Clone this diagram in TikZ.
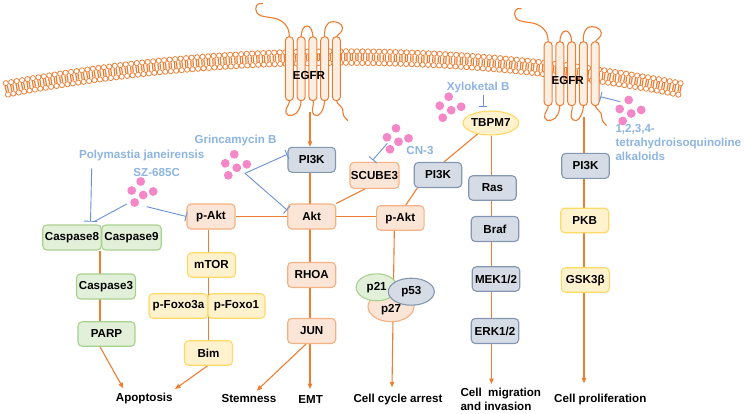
\documentclass[tikz,border=0pt]{standalone}
\usepackage{fontspec}
\setmainfont{Liberation Sans}
\usetikzlibrary{arrows.meta,backgrounds,calc,shapes.geometric}
\definecolor{ora}{RGB}{237,125,49}
\definecolor{gfill}{RGB}{226,240,217}
\definecolor{gdraw}{RGB}{169,209,142}
\definecolor{pfill}{RGB}{251,229,214}
\definecolor{pdraw}{RGB}{244,177,131}
\definecolor{yfill}{RGB}{255,242,204}
\definecolor{ydraw}{RGB}{255,217,102}
\definecolor{bfill}{RGB}{214,220,229}
\definecolor{bdraw}{RGB}{132,151,176}
\definecolor{drug}{RGB}{141,180,226}
\definecolor{inhc}{RGB}{105,145,212}
\definecolor{dotc}{RGB}{243,135,199}
\definecolor{egfill}{RGB}{253,238,226}
\tikzset{
  nbox/.style={draw, rounded corners=4pt, line width=1.1pt, minimum width=48pt, minimum height=25pt, inner sep=1pt},
  greenbox/.style={nbox, fill=gfill, draw=gdraw},
  peachbox/.style={nbox, fill=pfill, draw=pdraw},
  yellowbox/.style={nbox, fill=yfill, draw=ydraw},
  bluebox/.style={nbox, fill=bfill, draw=bdraw, minimum width=47.5pt},
  ell/.style={ellipse, line width=1.1pt, inner sep=0pt, minimum height=27pt},
  oline/.style={draw=ora, line width=1.1pt},
  oarr/.style={oline, -{Triangle[length=5.5pt,width=4.5pt]}},
  inh/.style={draw=inhc, line width=0.9pt, -{Bar[width=10pt,line width=0.9pt]}},
  inhplain/.style={draw=inhc, line width=0.9pt},
  drugtxt/.style={text=drug, inner sep=0pt},
  outtxt/.style={inner sep=0pt},
  membr/.style={draw=ora, line width=1.2pt},
  headc/.style={draw=ora, line width=0.75pt, fill=white},
  pics/dots/.style={code={
     \foreach \dx/\dy in {0/0,-9/9,2.5/13.5,12.5/10,-6/21}
       \fill[dotc] (\dx,\dy) circle (4.4);
  }},
  pics/egfr/.style={code={
     \draw[oline] (-23.5,2) .. controls (-23.5,-8) and (-26,-12) .. (-32,-16) .. controls (-40,-21) and (-52,-18) .. (-56,-24) .. controls (-59,-29) and (-56,-35) .. (-50,-33);
     \draw[oline] (-11.75,2) .. controls (-12.5,-15) and (0.5,-15) .. (0,2);
     \draw[oline] (11.75,2) .. controls (11,-8) and (13,-15) .. (20,-15) .. controls (28,-15) and (31,-10) .. (29,-6) .. controls (27,-2) and (24,-3) .. (23.5,2);
     \draw[oline] (-23.5,62) .. controls (-23,70) and (-28,70) .. (-27,76) .. controls (-26,81) and (-16,79) .. (-14,73) .. controls (-12,68) and (-11.75,66) .. (-11.75,62);
     \draw[oline] (0,62) .. controls (2,70) and (-3,74) .. (1,78) .. controls (5,82) and (12,74) .. (11.75,62);
     \draw[oline] (23.5,62) .. controls (24,70) and (30,68) .. (30,75) .. controls (30,80) and (33,82) .. (35,84);
     \foreach \hx in {-23.5,-11.75,0,11.75,23.5}
       \draw[draw=ora, line width=1pt, fill=egfill, rounded corners=3.8pt] ({\hx-4},0) rectangle ({\hx+4},64);
     \node[inner sep=0pt] (-lbl) at (-4,39) {EGFR};
  }}
}
\begin{document}
\begin{tikzpicture}[x=1pt,y=-1pt,font=\fontsize{11.6}{14}\selectfont\bfseries]
\useasboundingbox (0,0) rectangle (745,413);
% membrane
\foreach \i in {0,...,123}{
  \pgfmathsetmacro{\ang}{-10.8+0.1757*\i}
  \pgfmathsetmacro{\msin}{sin(\ang)}
  \pgfmathsetmacro{\mcos}{cos(\ang)}
  \draw[membr] ({343+1797*\msin-1.1*\mcos},{1851-1797*\mcos-1.1*\msin}) -- ({343+1791*\msin-1.1*\mcos},{1851-1791*\mcos-1.1*\msin});
  \draw[membr] ({343+1797*\msin+1.1*\mcos},{1851-1797*\mcos+1.1*\msin}) -- ({343+1791*\msin+1.1*\mcos},{1851-1791*\mcos+1.1*\msin});
  \draw[headc] ({343+1799.8*\msin},{1851-1799.8*\mcos}) circle (2.6);
  \draw[headc] ({343+1788.2*\msin},{1851-1788.2*\mcos}) circle (2.6);
}
% receptors
\pic (egL) at (312.9,36.7) {egfr};
\pic (egR) at (571.7,41.7) {egfr};
% drug dots
\pic (dSZ) at (140.7,181.5) {dots};
\pic (dGr) at (234.3,154.3) {dots};
\pic (dCN) at (396,128.3) {dots};
\pic (dXy) at (448.7,96.7) {dots};
\pic (dAl) at (628.7,100) {dots};
% nodes
\node[greenbox, minimum width=58.5pt] (casp8) at (72,237.5) {Caspase8};
\node[greenbox, minimum width=59.5pt] (casp9) at (131.5,237.5) {Caspase9};
\node[greenbox, minimum width=59pt] (casp3) at (106,286.5) {Caspase3};
\node[greenbox, minimum width=57pt, minimum height=24.5pt] (parp) at (106.5,334) {PARP};
\node[peachbox] (pakt1) at (211,216.5) {p-Akt};
\node[yellowbox, minimum height=24.5pt] (mtor) at (211.5,265) {mTOR};
\node[yellowbox, minimum width=59pt, minimum height=24.5pt] (foxo3a) at (178.5,306) {p-Foxo3a};
\node[yellowbox, minimum width=57pt, minimum height=24.5pt] (foxo1) at (236.5,306) {p-Foxo1};
\node[yellowbox, minimum height=24.5pt] (bim) at (208.5,353) {Bim};
\node[bluebox] (pi3k1) at (311.7,159.8) {PI3K};
\node[peachbox] (akt) at (311.7,216.5) {Akt};
\node[peachbox] (rhoa) at (311.7,275) {RHOA};
\node[peachbox] (jun) at (311.7,331) {JUN};
\node[peachbox, minimum height=26pt] (scube3) at (374.5,175.3) {SCUBE3};
\node[bluebox] (pi3k2) at (438,175) {PI3K};
\node[peachbox, minimum width=47.5pt, minimum height=24.5pt] (pakt2) at (400.3,218) {p-Akt};
\node[ell, fill=yfill, draw=ydraw, minimum width=55.7pt, minimum height=24pt] (tbpm7) at (490.8,123) {TBPM7};
\node[bluebox, minimum height=24.5pt] (ras) at (492.5,188) {Ras};
\node[bluebox] (braf) at (495,229) {Braf};
\node[bluebox, minimum height=24.5pt] (mek) at (496,279) {MEK1/2};
\node[bluebox] (erk) at (495,331) {ERK1/2};
\node[ell, fill=pfill, draw=pdraw, minimum width=46pt, minimum height=30pt, text height=13pt] (p27) at (391,306.7) {p27};
\node[ell, fill=gfill, draw=gdraw, minimum width=41pt] (p21) at (376.7,287.3) {p21};
\node[ell, fill=bfill, draw=bdraw, minimum width=46pt] (p53) at (411.3,291.7) {p53};
\node[bluebox] (pi3k3) at (585.5,165.8) {PI3K};
\node[yellowbox, minimum height=24.5pt] (pkb) at (584.7,220.5) {PKB};
\node[yellowbox, minimum height=24.5pt] (gsk) at (585.3,280) {GSK3β};
% outcomes
\node[outtxt] (apop) at (144.3,398.3) {Apoptosis};
\node[outtxt] (stem) at (249,398.3) {Stemness};
\node[outtxt] (emt) at (310.7,399.3) {EMT};
\node[outtxt] (cca) at (398,399) {Cell cycle arrest};
\node[outtxt, align=left, anchor=west] (migr) at (460.3,399.7) {Cell\ \ migration\\and invasion};
\node[outtxt] (prolif) at (600.3,399.3) {Cell proliferation};
% drug labels
\node[drugtxt] (poly) at (141.7,155.7) {Polymastia janeirensis};
\node[drugtxt] (sz) at (156.7,172.3) {SZ-685C};
\node[drugtxt] (grin) at (235.5,140.7) {Grincamycin B};
\node[drugtxt] (cn3) at (420,151) {CN-3};
\node[drugtxt] (xylo) at (478.2,87.3) {Xyloketal B};
\node[drugtxt, align=left, anchor=west] (alk) at (615.3,143) {1,2,3,4-\\tetrahydroisoquinoline\\alkaloids};
% helper coordinates
\coordinate (xC) at (100,0);
\coordinate (xP) at (208.3,0);
\coordinate (xA) at (310,0);
\coordinate (xR) at (394.3,0);
\coordinate (xM) at (491.5,0);
\coordinate (xE) at (584,0);
\coordinate (egLo) at (310,112);
\coordinate (egRo) at (584,117);
\coordinate (aApo1) at (123.3,388.3);
\coordinate (aApo2) at (175,389);
\coordinate (aStem) at (256.7,390.7);
\coordinate (aEMT) at (310,389);
\coordinate (aCCA) at (392,387.3);
\coordinate (aMig) at (491.5,384);
\coordinate (aPro) at (584,383.3);
% orange connectors
\begin{scope}[on background layer]
  \draw[oarr] (egLo) -- (pi3k1.north -| xA);
  \draw[oline] (pi3k1.south -| xA) -- (jun.north -| xA);
  \draw[oarr] (jun.south -| xA) -- (aEMT);
  \draw[oarr] ($(jun.south)+(-5.7,0)$) -- (aStem);
  \draw[oline] (pakt1.east) -- (akt.west);
  \draw[oline] (pakt1.south -| xP) -- (bim.north -| xP);
  \draw[oarr] ($(bim.south)+(-1,0)$) -- (aApo2);
  \draw[oline] (casp8.south -| xC) -- (parp.north -| xC);
  \draw[oarr] (parp.south -| xC) -- (aApo1);
  \draw[oline] (akt.north east) -- ($(scube3.south)+(-9.5,0)$);
  \draw[oline] (akt.east) -- (akt.east -| pakt2.west);
  \draw[oline] ($(pakt2.north)+(5.4,0)$) -- ($(pi3k2.south)+(-20.7,0)$);
  \draw[oline] ($(pi3k2.north)+(6,0)$) -- (tbpm7.center);
  \draw[oarr] (tbpm7.south -| xM) -- (aMig);
  \draw[oarr] (pakt2.south -| xR) -- (aCCA);
  \draw[oline] (egRo) -- (pi3k3.north -| xE);
  \draw[oarr] (pi3k3.south -| xE) -- (aPro);
\end{scope}
% inhibitions
\coordinate (polyS) at (91.7,168.5);
\coordinate (caspT) at (90.5,221.7);
\coordinate (szA) at (126.7,204);
\coordinate (szB) at (146.7,206.7);
\coordinate (grA) at (245,173.3);
\coordinate (cnA) at (387.3,143.3);
\coordinate (xyA) at (483,95);
\coordinate (alA) at (620.3,101.7);
\coordinate (alT) at (600.3,96.7);
\draw[inh, -{Bar[width=13pt,line width=0.9pt]}] (polyS) -- (caspT);
\draw[inhplain] (szA) -- ($(caspT)+(3.5,0)$);
\draw[inh] (szB) -- (pakt1.west);
\draw[inh] (grA) -- ($(pi3k1.west)+(0,-5.5)$);
\draw[inh] (grA) -- ($(akt.west)+(0,-6.5)$);
\draw[inh] (cnA) -- ($(scube3.north)+(-1.8,-1.6)$);
\draw[inh, -{Bar[width=8.5pt,line width=0.9pt]}] (xyA) -- ($(tbpm7.north)+(-7.8,-3.7)$);
\draw[inh] (alA) -- (alT);
\end{tikzpicture}
\end{document}
